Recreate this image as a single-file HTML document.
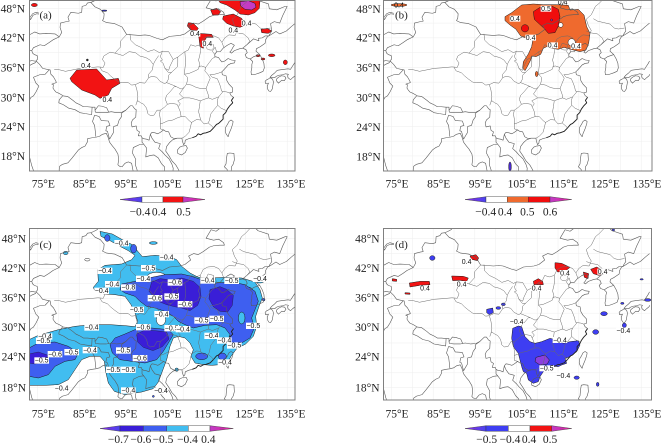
<!DOCTYPE html>
<html><head><meta charset="utf-8"><style>
html,body{margin:0;padding:0;background:#fff;}
svg{display:block;}
.ax{font-family:'Liberation Serif','DejaVu Serif',serif;font-size:11.5px;fill:#222;}
.lb rect{fill:#fff;}
.lb text{font-family:'Liberation Sans',sans-serif;font-size:21px;fill:#111;text-anchor:middle;}
.ct{stroke:#1a1a1a;stroke-width:1.5;}
</style></head><body>
<svg width="661" height="444" viewBox="0 0 661 444" xmlns="http://www.w3.org/2000/svg">
<defs>
<linearGradient id="gl" x1="0" x2="1" y1="0" y2="0"><stop offset="0" stop-color="#8a2be2"/><stop offset="1" stop-color="#4a44f0"/></linearGradient>
<linearGradient id="gr" x1="0" x2="1" y1="0" y2="0"><stop offset="0" stop-color="#c03cc8"/><stop offset="1" stop-color="#e0209a"/></linearGradient>
<clipPath id="ca"><rect x="29.5" y="0.5" width="265.5" height="170.5"/></clipPath>
<clipPath id="cb"><rect x="383.5" y="0.5" width="268.5" height="170.5"/></clipPath>
<clipPath id="cc"><rect x="29.5" y="228.5" width="265.5" height="171.5"/></clipPath>
<clipPath id="cd"><rect x="383.5" y="228.5" width="268" height="171.5"/></clipPath>
<g id="grid" fill="none" stroke="#eeeeee" stroke-width="0.5">
<path vector-effect="non-scaling-stroke" d="M75,13V51M80,13V51M85,13V51M90,13V51M95,13V51M100,13V51M105,13V51M110,13V51M115,13V51M120,13V51M125,13V51M130,13V51M135,13V51M70,15H140M70,18H140M70,21H140M70,24H140M70,27H140M70,30H140M70,33H140M70,36H140M70,39H140M70,42H140M70,45H140M70,48H140"/>
</g>
<g id="map" fill="none" stroke="#5a5a5a" stroke-width="0.6" stroke-linejoin="round">
<path vector-effect="non-scaling-stroke" d="M73.6,39.4 L74.0,40.0 L75.6,40.6 L76.6,40.4 L77.7,41.0 L78.7,41.6 L80.2,42.2 L80.8,43.1 L80.4,44.1 L80.5,45.0 L81.9,45.3 L82.6,45.4 L82.3,46.2 L83.0,47.2 L84.8,47.0 L85.6,47.2 L85.7,48.4 L86.6,48.6 L87.0,49.1 L87.8,49.2 L88.8,48.3 L90.1,47.8 L91.0,46.9 L90.9,46.0 L90.6,45.5 L91.6,45.1 L93.5,44.9 L95.3,44.2 L96.4,42.7 L99.5,42.5 L100.8,42.6 L101.8,42.5 L103.7,41.9 L105.0,41.6 L106.7,42.3 L109.2,42.5 L110.4,42.8 L111.8,43.7 L111.3,44.5 L112.5,45.0 L113.6,44.8 L114.8,45.4 L116.3,46.3 L117.4,46.6 L118.8,46.7 L119.9,46.7 L119.7,47.2 L118.5,47.9 L117.3,47.7 L115.5,48.1 L116.7,49.8 L117.9,49.5 L119.2,50.3 L120.0,52.5 L122.0,53.4 L125.5,53.0 L127.5,50.0 L128.0,49.6 L130.5,48.9 L130.7,47.9 L132.5,47.7 L134.5,48.4 L135.0,48.4 L133.9,46.5 L133.2,45.0 L131.9,45.3 L131.0,44.9 L131.3,43.4 L130.9,42.9 L130.6,42.4 L129.7,42.4 L129.0,42.0 L128.1,41.9 L128.2,41.4 L126.9,41.8 L125.3,40.6 L124.3,39.9 L123.6,39.8 L122.3,39.4 L121.6,38.9 L121.2,39.1 L121.6,39.5 L121.9,40.0 L122.3,40.5 L121.5,40.9 L120.6,40.5 L119.6,39.9 L118.9,39.2 L118.1,39.2 L117.6,38.7 L117.6,38.2 L118.5,38.0 L118.9,37.5 L119.3,37.1 L120.0,37.3 L120.8,37.8 L121.6,37.5 L122.5,37.4 L122.3,36.9 L121.5,36.8 L120.8,36.5 L120.3,36.0 L119.3,35.1 L119.4,34.5 L120.3,34.3 L120.5,33.3 L121.0,32.6 L121.9,31.8 L121.9,31.0 L121.2,30.8 L121.5,30.3 L122.1,29.9 L121.6,29.3 L121.9,28.8 L121.2,28.2 L120.6,27.5 L120.2,26.8 L119.6,26.3 L119.6,25.5 L119.0,25.0 L118.5,24.6 L118.0,24.4 L117.3,23.7 L116.5,23.0 L115.5,22.7 L114.8,22.6 L114.2,22.3 L113.6,22.5 L113.1,22.0 L112.2,21.7 L111.3,21.5 L110.5,21.2 L110.4,20.6 L110.1,20.3 L109.8,21.0 L109.7,21.6 L109.0,21.6 L108.5,21.6 L107.9,21.5 L107.0,21.9 L106.7,22.5 L106.5,22.9 L105.8,23.0 L105.3,23.3 L104.5,22.8 L103.9,22.5 L103.2,22.7 L102.5,22.8 L102.1,22.4 L101.8,21.2 L101.2,21.4 L100.5,21.5 L100.1,21.7 L99.9,22.1 L99.2,22.1 L99.5,22.9 L98.9,23.2 L98.7,24.1 L97.7,23.9 L97.5,24.7 L97.8,25.3 L98.6,25.9 L98.7,27.4 L98.3,27.6 L97.8,28.2 L97.3,28.2 L96.2,27.3 L95.3,26.9 L94.0,26.8 L92.7,27.0 L92.1,26.9 L91.6,27.8 L90.5,28.1 L89.6,28.2 L89.0,27.5 L88.8,27.3 L88.8,27.9 L88.1,27.9 L87.0,28.0 L86.0,28.0 L85.2,28.4 L84.2,28.8 L83.5,29.3 L82.2,30.1 L81.2,30.2 L80.2,30.7 L79.4,31.0 L79.0,31.4 L78.7,31.8 L78.8,32.5 L78.4,32.6 L79.5,32.9 L79.4,33.2 L78.8,34.1 L78.2,34.6 L78.0,35.5 L77.8,35.5 L76.2,35.8 L75.5,36.6 L75.0,37.0 L74.6,37.3 L75.0,37.7 L74.9,38.4 L74.2,38.6 L73.8,38.9 Z"/>
<path vector-effect="non-scaling-stroke" stroke="#222" stroke-width="0.9" d="M122.1,29.9 L121.6,29.3 L121.9,28.8 L121.2,28.2 L120.6,27.5 L120.2,26.8 L119.6,26.3 L119.6,25.5 L119.0,25.0 L118.5,24.6 L118.0,24.4 L117.3,23.7 L116.5,23.0 L115.5,22.7 L114.8,22.6 L114.2,22.3 L113.6,22.5 L113.1,22.0 L112.2,21.7"/>
<path vector-effect="non-scaling-stroke" d="M121.5,25.3 L122.0,25.0 L121.9,24.5 L121.5,23.5 L121.0,22.5 L120.8,21.9 L120.3,22.5 L120.1,23.0 L120.2,23.8 L120.7,24.5 L121.0,25.0 Z M110.7,20.1 L111.0,19.6 L110.5,18.7 L109.6,18.2 L108.7,18.5 L108.6,19.2 L109.2,19.8 L109.8,20.0 Z"/>
<path vector-effect="non-scaling-stroke" d="M124.3,39.9 L125.1,39.6 L125.4,39.0 L124.9,38.6 L125.2,38.0 L126.1,37.7 L126.7,37.2 L126.5,36.6 L126.5,35.9 L126.3,35.1 L126.4,34.5 L127.4,34.6 L128.4,34.9 L129.2,35.2 L129.5,35.9 L129.4,36.8 L129.0,37.7 L128.4,38.6 L127.5,39.3 L127.6,39.8 L128.5,40.2 L129.7,40.9 L129.8,41.6 L130.3,42.3 L130.6,42.4 M126.1,37.7 L127.0,38.2 L128.4,38.6 M130.6,42.4 L131.2,42.7 L132.3,43.3 L133.2,42.8 L134.8,43.4 L136.0,44.3 L137.0,45.0"/>
<path vector-effect="non-scaling-stroke" d="M137.0,37.3 L136.7,36.8 L136.0,35.9 L135.8,35.6 L135.2,35.7 L134.3,35.6 L133.4,35.5 L132.6,35.4 L131.9,34.8 L131.3,34.4 L130.9,34.0 L131.1,33.9 L132.0,33.9 L132.4,34.2 L133.0,34.4 L133.9,34.5 L134.6,34.7 L135.3,34.6 L135.1,34.3 L135.2,33.9 L135.8,33.5 L136.3,33.9 L136.9,34.3 L137.0,34.6 M130.9,33.9 L131.5,33.6 L131.7,33.0 L131.4,31.6 L131.0,31.1 L130.6,31.2 L130.3,31.6 L130.2,32.2 L130.5,32.8 L129.8,32.7 L129.7,33.2 L130.1,33.5 L130.4,33.6 Z M132.4,33.3 L132.9,32.8 L133.7,33.4 L134.3,33.3 L134.7,33.8 L134.4,34.2 L133.6,34.3 L132.9,34.0 L132.4,33.6 Z M120.6,18.5 L121.2,18.6 L122.2,18.5 L122.3,17.2 L122.0,16.3 L121.6,15.8 L121.5,14.5 L120.5,14.5 L120.6,15.2 L119.9,15.8 L120.3,16.4 L120.4,17.5 Z"/>
<path vector-effect="non-scaling-stroke" d="M72.6,21.5 L72.8,20.5 L72.9,19.2 L73.0,18.0 L73.3,17.0 L73.6,16.0 L73.9,15.3 L74.2,14.5 M80.2,14.5 L80.2,15.3 L80.3,15.9 L81.0,16.3 L82.3,16.6 L83.3,17.6 L84.8,19.2 L85.6,19.7 L86.4,20.0 L87.0,20.9 L87.0,21.5 L88.1,21.7 L89.0,21.8 L89.9,22.0 L90.6,22.4 L91.5,22.6 L91.9,21.9 L92.3,20.8 L93.0,20.0 L93.6,19.4 L94.3,18.4 L94.5,17.3 L94.3,16.2 L94.7,15.9 L95.3,15.8 L96.0,16.5 L96.8,16.8 L97.6,16.5 L97.9,15.2 L98.1,14.5 M108.5,21.6 L107.5,21.3 L106.7,20.7 L106.0,19.9 L105.8,19.0 L106.6,18.0 L107.3,17.0 L108.2,16.2 L108.9,15.2 L109.2,14.5"/>
<path vector-effect="non-scaling-stroke" d="M80.2,42.2 L79.2,42.8 L77.0,42.9 L75.5,42.8 L74.3,43.2 L73.0,42.6 M73.6,39.4 L72.5,39.4 M74.8,37.2 L73.5,37.4 L72.5,37.0 M74.6,37.0 L73.5,36.6 L72.5,36.0 M77.8,35.5 L76.8,34.6 L75.5,34.5 L74.0,34.0 L74.6,32.8 L75.3,32.2 L74.6,31.0 L74.0,30.2 L73.4,29.9 L72.8,29.0 M81.0,30.2 L80.2,29.4 L80.1,28.8 L81.2,28.4 L82.5,27.7 L84.0,27.4 L85.2,26.8 L86.5,26.6 L88.0,26.4 L88.1,27.9 M88.8,27.3 L88.9,26.9 L90.0,26.8 L91.5,26.8 L92.1,26.9 M88.7,26.3 L89.8,26.0 L90.3,25.2 L92.0,25.1 L92.4,24.2 L91.6,24.0 L91.4,23.1 L91.8,23.0 L92.3,21.4 M88.7,26.3 L88.2,25.0 L88.7,24.2 L88.9,22.8 L89.0,21.9 M92.3,21.4 L92.7,22.0 L93.2,22.7 L93.3,24.0 L94.2,24.2 L94.6,25.3 L95.2,26.0 L95.2,26.7 L96.2,27.3 M100.1,21.7 L100.1,20.8 L100.5,20.4 L99.5,20.3 L98.0,19.7 L97.8,18.6 L98.6,17.3 L98.5,16.2 L98.9,15.2 L99.1,14.5 M100.5,20.4 L101.2,19.6 L101.0,17.8 L102.1,18.1 L103.0,18.2 L104.0,17.6 L104.8,16.4 L105.5,15.8 L105.6,14.5 M102.1,22.4 L102.5,21.6 L103.2,20.8 L104.5,20.5 L104.1,19.5 L105.0,18.8 L105.6,18.2 L106.6,17.4 L107.3,16.3 L107.6,15.5 L107.5,14.5 M87.8,49.2 L88.6,49.5 L89.5,49.9 M73.3,45.7 L73.9,46.6 L74.8,46.9 L76.2,46.7 L77.8,46.4 L79.0,46.5 L78.8,46.9 L77.0,46.9 L75.5,47.0 L74.6,47.2 L73.8,46.9 L73.1,46.1 Z"/>
<path vector-effect="non-scaling-stroke" stroke="#6a6a6a" stroke-width="0.5" d="M79.0,35.6 L80.3,35.5 L81.7,35.2 L83.5,35.5 L85.2,35.8 L87.0,35.9 L89.5,36.1 L90.8,36.0 L91.2,36.9 L90.6,37.6 L90.9,38.3 L92.4,39.1 L93.6,38.9 L95.0,40.2 L94.9,41.3 L96.4,42.7 M90.0,36.0 L90.5,35.3 L91.8,34.9 L92.5,34.3 L93.5,33.6 L94.5,33.0 L95.5,32.9 L96.8,32.9 L97.6,32.4 L98.5,32.5 L98.9,31.3 L99.1,30.0 L98.9,29.0 L99.1,29.2 M98.9,29.0 L98.6,28.3 M93.6,38.9 L95.5,38.4 L97.0,39.2 L98.5,39.0 L99.6,38.3 L101.0,38.0 L102.0,37.5 L102.8,36.6 L102.6,35.5 L101.7,34.6 L101.7,33.9 L100.8,32.8 L99.5,32.9 L98.5,32.5 M101.7,33.9 L102.5,34.2 L103.6,34.0 L104.4,33.2 L105.5,32.7 L106.0,32.9 M97.2,42.8 L97.4,41.5 L98.5,40.6 L100.0,40.0 L101.5,39.2 L103.0,39.6 L104.3,39.0 L105.0,39.3 L106.5,39.2 L107.6,37.6 L108.7,38.1 L110.4,39.2 L111.2,39.5 L111.8,40.6 L112.9,40.3 L114.1,40.6 L114.8,41.8 L115.9,42.3 L117.4,42.4 L118.5,42.0 L119.3,41.1 L120.0,42.0 L121.0,42.6 L122.5,42.5 L123.0,43.5 L122.3,44.5 L121.8,45.8 L123.0,46.7 L124.0,48.4 L125.0,49.1 L126.0,50.0 M105.0,39.3 L104.5,38.2 L105.0,37.5 L104.5,37.3 L105.2,36.8 L105.6,35.8 L106.5,35.4 L106.8,36.2 L107.6,37.6 M104.1,38.4 L103.3,37.4 L102.8,36.6 M105.6,35.8 L106.4,35.0 L107.2,35.0 L106.5,34.4 L106.5,33.7 L106.0,32.9 M108.7,38.1 L108.7,37.0 L108.6,36.1 L107.2,35.0 M110.4,39.2 L110.5,38.0 L110.6,37.0 L110.4,35.7 L110.3,34.6 L111.5,34.8 L112.6,35.2 L113.6,35.6 L114.0,36.5 L113.7,37.5 L114.0,38.5 L114.2,39.5 L114.1,40.6 M106.0,32.9 L107.5,32.4 L108.3,32.1 L109.5,31.6 L110.2,31.9 L110.8,32.6 L111.0,33.3 L111.0,34.0 L110.3,34.6 M110.8,32.6 L112.0,32.4 L113.2,31.9 L114.3,31.7 L115.5,31.7 L115.9,32.6 L116.5,33.8 L116.0,34.5 L115.2,35.3 L115.4,36.0 L114.3,36.3 L113.7,36.1 M115.4,36.0 L116.2,36.9 L117.0,37.8 L117.9,38.2 M116.4,34.5 L117.5,34.6 L118.4,34.8 L119.3,35.1 M116.4,34.5 L117.0,34.0 L118.2,33.7 L118.7,32.7 L119.0,32.0 L119.2,31.2 L119.6,31.1 L120.5,31.0 L121.2,30.8 M119.6,31.1 L118.5,30.0 L117.0,29.5 L116.1,29.8 L116.0,30.5 L115.5,31.7 M118.5,30.0 L118.2,29.3 L118.3,28.3 L119.1,27.7 L120.4,27.2 M118.3,28.3 L117.5,27.5 L116.6,26.5 L116.3,25.2 L116.0,24.7 L117.0,24.0 L117.3,23.6 M116.1,29.8 L115.0,29.5 L114.1,29.2 L113.9,28.0 L113.7,27.0 L114.0,26.0 L114.2,25.3 L115.0,24.5 L116.0,24.7 M114.1,29.2 L113.0,29.5 L111.5,29.8 L110.1,29.8 L109.1,30.6 L110.2,31.9 M110.1,29.8 L108.7,29.2 L109.3,28.6 L108.8,28.0 L109.3,27.0 L109.5,26.0 L110.5,26.0 L111.4,25.2 L112.0,24.8 L113.2,25.4 L114.2,25.3 M112.0,24.8 L111.7,23.7 L111.4,22.8 L110.5,22.0 L109.7,21.6 M109.5,26.0 L108.5,25.7 L107.5,25.3 L106.2,25.1 L105.2,24.7 L104.5,24.5 L104.5,23.5 L105.3,23.3 M104.5,24.5 L104.5,25.5 L104.3,26.5 L104.5,27.3 L105.5,27.9 L106.2,28.5 L107.2,28.7 L108.5,28.5 L108.8,28.0 M104.5,27.3 L103.7,27.3 L103.0,26.3 L102.1,26.2 L101.5,26.6 L101.2,27.7 L100.5,28.5 L99.8,28.8 L99.1,29.2 M106.2,28.5 L105.7,29.5 L106.0,30.3 L106.8,31.0 L107.9,32.1 L108.3,32.1 M119.3,41.1 L119.8,40.0 L119.6,39.9 M121.8,43.4 L123.0,43.0 L124.5,42.8 L125.6,42.0 L126.0,41.3 L125.3,40.6 M123.5,45.9 L124.5,45.4 L126.0,45.1 L127.5,44.8 L128.5,44.0 L129.5,43.8 L131.0,44.0 M115.5,40.0 L116.0,40.9 L117.3,40.6 L117.4,40.0 L116.8,39.5 L116.0,39.6 Z M117.0,39.3 L117.7,40.1 L118.0,39.2 L117.6,38.6 Z"/>
</g>
</defs>
<rect width="661" height="444" fill="#fff"/>

<!-- ===== PANEL A ===== -->
<g clip-path="url(#ca)">
<use href="#grid" transform="matrix(4.16,0,0,-4.92,-274.4,244.5)"/>
<g transform="scale(0.33333)" class="ct">
<polygon fill="#f21313" points="210,235 230,210 290,207 300,218 320,240 355,235 360,250 335,265 325,285 300,295 285,285 245,270 215,245"/>
<polygon fill="#f21313" points="655,0 780,0 778,25 765,38 745,45 720,42 705,30 680,15 660,8"/>
<polygon fill="#c43bc4" points="720,5 745,2 765,10 768,22 755,30 735,28 722,18"/>
<polygon fill="#f21313" points="670,48 700,42 725,55 735,75 720,82 700,78 680,70 668,58"/>
<polygon fill="#f21313" points="632,30 650,25 662,35 655,45 638,45"/>
<polygon fill="#f21313" points="565,68 580,70 595,85 590,92 572,90 562,78"/>
<polygon fill="#f21313" points="595,100 635,103 640,112 620,112 612,125 610,145 600,140 597,115"/>
<polygon fill="#f21313" points="783,88 802,85 815,93 805,100 785,98"/>
<ellipse fill="#f21313" cx="774" cy="167" rx="6" ry="3"/>
<ellipse fill="#f21313" cx="789" cy="177" rx="6" ry="3"/>
<ellipse fill="#f21313" cx="815" cy="166" rx="10" ry="4"/>
<ellipse fill="#f21313" cx="856" cy="187" rx="6" ry="7"/>
<ellipse fill="#f21313" cx="103" cy="15" rx="9" ry="5"/>
<ellipse fill="#3232c8" cx="313" cy="32" rx="8" ry="2"/>
<circle fill="#222" cx="262" cy="180" r="3"/>
</g>
<use href="#map" transform="matrix(4.16,0,0,-4.92,-274.4,244.5)"/>
<g transform="scale(0.33333)" class="lb">
<rect x="242" y="188" width="32" height="18"/><text x="258" y="204">0.4</text>
<rect x="306" y="290" width="32" height="18"/><text x="322" y="306">0.4</text>
<rect x="569" y="92" width="32" height="18"/><text x="585" y="108">0.4</text>
<rect x="606" y="122" width="32" height="18"/><text x="622" y="138">0.4</text>
<rect x="684" y="82" width="32" height="18"/><text x="700" y="98">0.4</text>
<rect x="724" y="60" width="32" height="18"/><text x="740" y="76">0.4</text>
</g>
<rect x="39" y="11" width="16" height="10" fill="#fff"/>
<text x="39.5" y="18.7" font-family="'Liberation Serif','DejaVu Serif',serif" font-size="11" fill="#222">(a)</text>
</g>
<rect x="29.5" y="0.5" width="265.5" height="170.5" fill="none" stroke="#808080"/>

<!-- ===== PANEL B ===== -->
<g clip-path="url(#cb)">
<use href="#grid" transform="matrix(4.16,0,0,-4.92,79.6,244.5)"/>
<g transform="translate(490,0) scale(0.33333)" class="ct">
<polygon fill="#ef6a2e" points="45,50 65,38 95,15 130,12 160,14 200,14 235,16 240,30 265,28 282,45 290,80 300,100 296,130 288,150 270,155 250,150 222,142 205,148 185,145 170,140 160,145 152,163 138,170 125,168 122,180 112,200 105,212 98,205 100,185 115,162 125,140 128,122 110,115 92,108 78,88 60,75 45,62"/>
<ellipse fill="#fff" cx="245" cy="127" rx="11" ry="11"/>
<circle fill="#fff" cx="212" cy="75" r="7"/>
<polygon fill="#f00d0d" points="130,35 150,22 185,18 205,28 210,50 205,78 195,98 175,100 162,85 148,72 133,58"/>
<circle fill="#f00d0d" cx="105" cy="85" r="11"/>
<circle fill="#a030c8" cx="185" cy="60" r="3"/>
<ellipse fill="#ef6a2e" cx="140" cy="222" rx="4" ry="8"/>
</g>
<g transform="translate(330,0) scale(0.33333)" class="ct">
<ellipse fill="#ef6a2e" cx="207" cy="15" rx="24" ry="4"/>
<ellipse fill="#4a2ad0" cx="540" cy="500" rx="4" ry="14"/>
</g>
<use href="#map" transform="matrix(4.16,0,0,-4.92,79.6,244.5)"/>
<g transform="translate(490,0) scale(0.33333)" class="lb">
<rect x="152" y="17" width="32" height="18"/><text x="168" y="33">0.5</text>
<rect x="59" y="47" width="32" height="18"/><text x="75" y="63">0.4</text>
<rect x="106" y="104" width="32" height="18"/><text x="122" y="120">0.4</text>
<rect x="172" y="127" width="32" height="18"/><text x="188" y="143">0.4</text>
<rect x="242" y="129" width="32" height="18"/><text x="258" y="145">0.4</text>
<text x="218" y="14">0.4</text>
</g>
<g transform="translate(330,0) scale(0.33333)" class="lb"><text x="207" y="22">0.4</text></g>
<rect x="394" y="11" width="16" height="10" fill="#fff"/>
<text x="395" y="18.7" font-family="'Liberation Serif','DejaVu Serif',serif" font-size="11" fill="#222">(b)</text>
</g>
<rect x="383.5" y="0.5" width="268.5" height="170.5" fill="none" stroke="#808080"/>

<!-- ===== PANEL C ===== -->
<g clip-path="url(#cc)">
<use href="#grid" transform="matrix(4.16,0,0,-4.967,-274.4,477.1)"/>
<g transform="translate(25,228) scale(0.33333)" class="ct">
<polygon fill="#41bdf0" points="225,10 262,18 292,35 322,50 340,72 352,86 390,82 430,85 455,95 470,115 495,135 520,148 560,150 600,148 650,150 690,162 705,185 712,210 702,235 692,265 695,295 685,325 662,348 635,362 618,385 610,400 585,410 560,412 535,410 510,405 498,385 505,365 495,345 480,330 460,325 445,330 435,355 425,395 412,430 400,462 385,482 350,492 300,500 268,490 250,465 242,430 238,400 225,385 195,385 170,395 150,425 130,455 100,470 60,472 12,472 12,335 40,322 100,305 150,295 200,290 255,290 300,293 330,296 338,280 330,255 318,230 300,205 270,200 240,198 212,195 205,178 220,160 218,125 240,112 290,108 320,95 330,82 310,68 285,55 255,38 228,25"/>
<ellipse fill="#fff" cx="395" cy="145" rx="28" ry="12"/>
<ellipse fill="#fff" cx="408" cy="275" rx="14" ry="17"/>
<ellipse fill="#fff" cx="672" cy="190" rx="12" ry="12"/>
<polygon fill="#3e5ff0" points="290,168 330,160 370,150 420,140 470,138 500,145 530,155 570,165 620,162 660,170 690,190 700,220 690,245 680,270 688,300 675,330 650,345 620,355 605,345 615,320 600,300 575,290 540,292 505,300 480,290 460,280 445,265 420,250 390,240 365,235 345,220 330,205 300,195 285,185"/>
<ellipse fill="#41bdf0" cx="650" cy="270" rx="10" ry="18"/>
<polygon fill="#3e5ff0" points="270,330 300,318 330,305 380,300 430,305 445,320 430,345 415,370 395,395 360,405 320,400 285,395 262,375 255,350"/>
<polygon fill="#3e5ff0" points="12,360 40,345 90,342 130,355 160,375 150,395 120,400 90,415 70,440 40,450 12,445"/>
<ellipse fill="#3e5ff0" cx="530" cy="385" rx="18" ry="10"/>
<ellipse fill="#3e5ff0" cx="592" cy="385" rx="12" ry="10"/>
<ellipse fill="#3e5ff0" cx="326" cy="62" rx="9" ry="13"/>
<ellipse fill="#3e5ff0" cx="247" cy="30" rx="8" ry="10"/>
<g stroke-width="1">
<polygon fill="#3a1ed7" points="380,162 405,152 440,156 470,150 505,160 525,178 528,205 518,232 495,248 470,240 448,236 425,230 405,222 388,208 372,190"/>
<polygon fill="#3a1ed7" points="555,185 585,176 605,184 625,202 622,232 608,252 585,250 565,236 552,212"/>
<polygon fill="#3a1ed7" points="335,318 360,306 390,308 425,312 432,333 412,356 384,368 355,358 338,342"/>
<polygon fill="#3a1ed7" points="12,378 40,372 70,382 60,402 30,408 12,405"/>
</g>
<ellipse fill="#41bdf0" cx="122" cy="75" rx="7" ry="5"/>
<ellipse fill="#fff" cx="187" cy="95" rx="8" ry="4"/>
<ellipse fill="#41bdf0" cx="385" cy="45" rx="12" ry="4"/>
<ellipse fill="#41bdf0" cx="705" cy="155" rx="15" ry="10"/>
<circle fill="#3e5ff0" cx="716" cy="215" r="4"/>
<circle fill="#3e5ff0" cx="385" cy="505" r="3"/>
<circle fill="#41bdf0" cx="455" cy="425" r="5"/>
</g>
<use href="#map" transform="matrix(4.16,0,0,-4.967,-274.4,477.1)"/>
<g transform="translate(25,228) scale(0.33333)" class="lb">
<rect x="268" y="36" width="44" height="19"/><text x="290" y="52">−0.4</text>
<rect x="403" y="79" width="44" height="19"/><text x="425" y="95">−0.4</text>
<rect x="218" y="119" width="44" height="19"/><text x="240" y="135">−0.4</text>
<rect x="348" y="111" width="44" height="19"/><text x="370" y="127">−0.5</text>
<rect x="333" y="143" width="44" height="19"/><text x="355" y="159">−0.4</text>
<rect x="240" y="159" width="44" height="19"/><text x="262" y="175">−0.4</text>
<rect x="288" y="169" width="44" height="19"/><text x="310" y="185">−0.8</text>
<rect x="208" y="179" width="44" height="19"/><text x="230" y="195">−0.4</text>
<rect x="428" y="154" width="44" height="19"/><text x="450" y="170">−0.6</text>
<rect x="526" y="148" width="44" height="19"/><text x="548" y="164">−0.4</text>
<rect x="598" y="149" width="44" height="19"/><text x="620" y="165">−0.5</text>
<rect x="683" y="143" width="44" height="19"/><text x="705" y="159">−0.4</text>
<rect x="368" y="201" width="44" height="19"/><text x="390" y="217">−0.6</text>
<rect x="418" y="196" width="44" height="19"/><text x="440" y="212">−0.5</text>
<rect x="458" y="219" width="44" height="19"/><text x="480" y="235">−0.6</text>
<rect x="313" y="236" width="44" height="19"/><text x="335" y="252">−0.5</text>
<rect x="388" y="249" width="44" height="19"/><text x="410" y="265">−0.4</text>
<rect x="508" y="268" width="44" height="19"/><text x="530" y="284">−0.5</text>
<rect x="553" y="263" width="44" height="19"/><text x="575" y="279">−0.5</text>
<rect x="663" y="284" width="44" height="19"/><text x="685" y="300">−0.5</text>
<rect x="333" y="288" width="44" height="19"/><text x="355" y="304">−0.6</text>
<rect x="418" y="291" width="44" height="19"/><text x="440" y="307">−0.5</text>
<rect x="452" y="294" width="44" height="19"/><text x="474" y="310">−0.4</text>
<rect x="538" y="314" width="44" height="19"/><text x="560" y="330">−0.4</text>
<rect x="576" y="328" width="44" height="19"/><text x="598" y="344">−0.4</text>
<rect x="606" y="343" width="44" height="19"/><text x="628" y="359">−0.5</text>
<rect x="178" y="289" width="44" height="19"/><text x="200" y="305">−0.4</text>
<rect x="38" y="316" width="44" height="19"/><text x="60" y="332">−0.4</text>
<rect x="33" y="329" width="44" height="19"/><text x="55" y="345">−0.5</text>
<rect x="68" y="369" width="44" height="19"/><text x="90" y="385">−0.6</text>
<rect x="118" y="363" width="44" height="19"/><text x="140" y="379">−0.5</text>
<rect x="173" y="357" width="44" height="19"/><text x="195" y="373">−0.4</text>
<rect x="28" y="388" width="44" height="19"/><text x="50" y="404">−0.5</text>
<rect x="273" y="358" width="44" height="19"/><text x="295" y="374">−0.5</text>
<rect x="323" y="381" width="44" height="19"/><text x="345" y="397">−0.6</text>
<rect x="243" y="416" width="44" height="19"/><text x="265" y="432">−0.5</text>
<rect x="288" y="416" width="44" height="19"/><text x="310" y="432">−0.5</text>
<rect x="578" y="394" width="44" height="19"/><text x="600" y="410">−0.4</text>
<rect x="88" y="471" width="44" height="19"/><text x="110" y="487">−0.4</text>
<rect x="288" y="478" width="44" height="19"/><text x="310" y="494">−0.4</text>
<rect x="386" y="479" width="44" height="19"/><text x="408" y="495">−0.4</text>
</g>
<rect x="38.5" y="240" width="16" height="10" fill="#fff"/>
<text x="39.5" y="248" font-family="'Liberation Serif','DejaVu Serif',serif" font-size="11" fill="#222">(c)</text>
</g>
<rect x="29.5" y="228.5" width="265.5" height="171.5" fill="none" stroke="#808080"/>

<!-- ===== PANEL D ===== -->
<g clip-path="url(#cd)">
<use href="#grid" transform="matrix(4.16,0,0,-4.967,79.6,477.1)"/>
<g transform="translate(330,222) scale(0.33333)" class="ct">
<ellipse fill="#3e3ef2" cx="307" cy="108" rx="8" ry="7"/>
<polygon fill="#f21313" points="420,102 438,98 446,108 442,116 425,112"/>
<polygon fill="#f21313" points="187,170 200,172 200,178 187,177"/>
<polygon fill="#f21313" points="238,183 270,178 298,178 300,188 270,190 240,195"/>
<polygon fill="#f21313" points="365,162 400,163 415,168 410,178 390,175 368,176"/>
<polygon fill="#f21313" points="225,212 240,213 240,217 225,216"/>
<polygon fill="#f21313" points="610,178 625,170 638,178 640,188 612,188"/>
<polygon fill="#f21313" points="675,122 695,124 720,136 705,148 683,150 675,138"/>
<polygon fill="#f21313" points="760,150 776,155 774,170 763,166"/>
<polygon fill="#f21313" points="782,142 800,135 818,145 826,156 806,160 790,155"/>
<polygon fill="#3e3ef2" points="470,262 488,258 490,272 478,278 470,272"/>
<ellipse fill="#3e3ef2" cx="505" cy="258" rx="7" ry="4"/>
<ellipse fill="#3e3ef2" cx="520" cy="247" rx="6" ry="4"/>
<ellipse fill="#3e3ef2" cx="822" cy="275" rx="10" ry="6"/>
<ellipse fill="#3e3ef2" cx="797" cy="330" rx="9" ry="7"/>
<ellipse fill="#3e3ef2" cx="883" cy="310" rx="6" ry="7"/>
<ellipse fill="#3e3ef2" cx="877" cy="244" rx="5" ry="3"/>
<ellipse fill="#3e3ef2" cx="953" cy="234" rx="10" ry="4"/>
<ellipse fill="#3e3ef2" cx="740" cy="467" rx="8" ry="5"/>
<ellipse fill="#3e3ef2" cx="803" cy="487" rx="4" ry="6"/>
<ellipse fill="#3e3ef2" cx="850" cy="24" rx="4" ry="3"/>
<ellipse fill="#3e3ef2" cx="935" cy="172" rx="5" ry="2"/>
</g>
<g transform="translate(490,310) scale(0.33333)" class="ct">
<polygon fill="#3e3ef2" points="68,55 85,48 95,50 105,80 120,95 135,100 155,95 180,85 200,90 220,100 240,95 265,92 270,105 260,125 240,140 225,145 230,160 215,165 205,170 185,168 170,175 160,185 150,200 145,215 130,220 115,210 110,190 100,185 95,170 90,150 85,130 70,110 65,85"/>
<polygon fill="#8a3ee0" points="138,142 165,135 178,150 172,162 150,165 135,155"/>
</g>
<use href="#map" transform="matrix(4.16,0,0,-4.967,79.6,477.1)"/>
<g transform="translate(330,222) scale(0.33333)" class="lb">
<rect x="394" y="110" width="32" height="18"/><text x="410" y="126">0.4</text>
<rect x="269" y="190" width="32" height="18"/><text x="285" y="206">0.4</text>
<rect x="379" y="177" width="32" height="18"/><text x="395" y="193">0.4</text>
<rect x="604" y="189" width="32" height="18"/><text x="620" y="205">0.4</text>
<rect x="689" y="144" width="32" height="18"/><text x="705" y="160">0.4</text>
<rect x="802" y="140" width="32" height="18"/><text x="818" y="156">0.4</text>
<rect x="538" y="290" width="44" height="18"/><text x="560" y="306">−0.4</text>
<rect x="668" y="345" width="44" height="18"/><text x="690" y="361">−0.4</text>
<rect x="858" y="317" width="44" height="18"/><text x="880" y="333">−0.4</text>
<rect x="628" y="430" width="44" height="18"/><text x="650" y="446">−0.5</text>
<rect x="678" y="452" width="44" height="18"/><text x="700" y="468">−0.4</text>
</g>
<rect x="394" y="240" width="16" height="10" fill="#fff"/>
<text x="395" y="248" font-family="'Liberation Serif','DejaVu Serif',serif" font-size="11" fill="#222">(d)</text>
</g>
<rect x="383.5" y="228.5" width="268" height="171.5" fill="none" stroke="#808080"/>

<!-- ===== AXIS LABELS ===== -->
<g class="ax" font-family="'Liberation Serif','DejaVu Serif',serif" font-size="11.5" fill="#222" text-anchor="end">
<text x="25" y="12.3">48°N</text><text x="25" y="41.3">42°N</text><text x="25" y="71.3">36°N</text><text x="25" y="101.3">30°N</text><text x="25" y="130.7">24°N</text><text x="25" y="160">18°N</text>
<text x="380.7" y="13">48°N</text><text x="380.7" y="41.7">42°N</text><text x="380.7" y="71.7">36°N</text><text x="380.7" y="101.7">30°N</text><text x="380.7" y="131">24°N</text><text x="380.7" y="160.3">18°N</text>
<text x="26" y="242.7">48°N</text><text x="26" y="272">42°N</text><text x="26" y="301.3">36°N</text><text x="26" y="331">30°N</text><text x="26" y="360.7">24°N</text><text x="26" y="391.7">18°N</text>
<text x="379.5" y="242.7">48°N</text><text x="379.5" y="272">42°N</text><text x="379.5" y="301.3">36°N</text><text x="379.5" y="331">30°N</text><text x="379.5" y="360.7">24°N</text><text x="379.5" y="391.7">18°N</text>
</g>
<g class="ax" font-family="'Liberation Serif','DejaVu Serif',serif" font-size="11.5" fill="#222" text-anchor="middle">
<text x="43.3" y="187.3">75°E</text><text x="84.6" y="187.3">85°E</text><text x="125.9" y="187.3">95°E</text><text x="167.2" y="187.3">105°E</text><text x="208.5" y="187.3">115°E</text><text x="249.8" y="187.3">125°E</text><text x="291.1" y="187.3">135°E</text>
<text x="397" y="187.3">75°E</text><text x="438.7" y="187.3">85°E</text><text x="480.3" y="187.3">95°E</text><text x="522" y="187.3">105°E</text><text x="563.7" y="187.3">115°E</text><text x="605.3" y="187.3">125°E</text><text x="647" y="187.3">135°E</text>
<text x="43.3" y="417.7">75°E</text><text x="84.6" y="417.7">85°E</text><text x="125.9" y="417.7">95°E</text><text x="167.2" y="417.7">105°E</text><text x="208.5" y="417.7">115°E</text><text x="249.8" y="417.7">125°E</text><text x="291.1" y="417.7">135°E</text>
<text x="397" y="417.7">75°E</text><text x="438.7" y="417.7">85°E</text><text x="480.3" y="417.7">95°E</text><text x="522" y="417.7">105°E</text><text x="563.7" y="417.7">115°E</text><text x="605.3" y="417.7">125°E</text><text x="647" y="417.7">135°E</text>
</g>

<!-- ===== COLORBARS ===== -->
<g stroke="#333" stroke-width="0.4">
<polygon fill="url(#gl)" points="120,199.5 142,196.7 142,202.3"/>
<rect x="142" y="196.7" width="21" height="5.6" fill="#fff"/>
<rect x="163" y="196.7" width="20" height="5.6" fill="#f21313"/>
<polygon fill="url(#gr)" points="183,196.7 205,199.5 183,202.3"/>

<polygon fill="url(#gl)" points="465,199.5 486,196.7 486,202.3"/>
<rect x="486" y="196.7" width="21.3" height="5.6" fill="#fff"/>
<rect x="507.3" y="196.7" width="21" height="5.6" fill="#ef6a2e"/>
<rect x="528.3" y="196.7" width="21.7" height="5.6" fill="#f00d0d"/>
<polygon fill="url(#gr)" points="550,196.7 571.7,199.5 550,202.3"/>

<polygon fill="url(#gl)" points="100,428.5 120,425.7 120,431.3"/>
<rect x="120" y="425.7" width="23.3" height="5.6" fill="#3a1ed7"/>
<rect x="143.3" y="425.7" width="23.4" height="5.6" fill="#3e5ff0"/>
<rect x="166.7" y="425.7" width="21.6" height="5.6" fill="#41bdf0"/>
<rect x="188.3" y="425.7" width="21.7" height="5.6" fill="#fff"/>
<polygon fill="url(#gr)" points="210,425.7 233.3,428.5 210,431.3"/>

<polygon fill="url(#gl)" points="465,428.5 486,425.7 486,431.3"/>
<rect x="486" y="425.7" width="22.3" height="5.6" fill="#3e3ef2"/>
<rect x="508.3" y="425.7" width="21.7" height="5.6" fill="#fff"/>
<rect x="530" y="425.7" width="21.7" height="5.6" fill="#f21313"/>
<polygon fill="url(#gr)" points="551.7,425.7 571.7,428.5 551.7,431.3"/>
</g>
<g class="ax" font-family="'Liberation Serif','DejaVu Serif',serif" font-size="11.5" fill="#222" text-anchor="middle">
<text x="140" y="215.5">−0.4</text><text x="159" y="215.5">0.4</text><text x="183.5" y="215.5">0.5</text>
<text x="485.7" y="215.5">−0.4</text><text x="505" y="215.5">0.4</text><text x="527.3" y="215.5">0.5</text><text x="550" y="215.5">0.6</text>
<text x="118.3" y="443">−0.7</text><text x="140.8" y="443">−0.6</text><text x="163" y="443">−0.5</text><text x="187.5" y="443">−0.4</text><text x="208.3" y="443">0.4</text>
<text x="486.7" y="443">−0.5</text><text x="510" y="443">−0.4</text><text x="529" y="443">0.4</text><text x="550" y="443">0.5</text>
</g>
</svg>
</body></html>
